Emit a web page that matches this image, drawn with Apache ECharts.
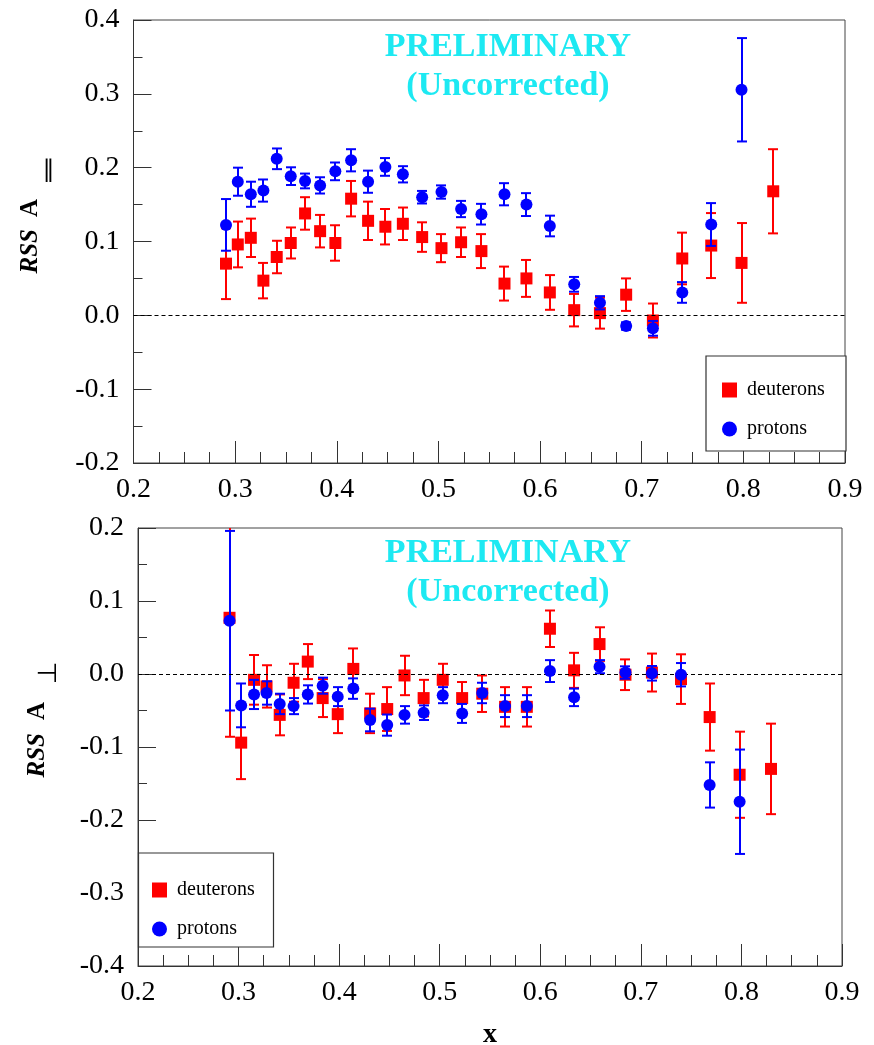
<!DOCTYPE html>
<html>
<head>
<meta charset="utf-8">
<script src="https://cdn.jsdelivr.net/npm/echarts@6/dist/echarts.min.js"></script>
<style>
html,body{margin:0;padding:0;background:#fff;}
#chart{width:874px;height:1045px;}
</style>
</head>
<body>
<div id="chart"></div>
<script>
// ---- data ----
const xVals = [0.291, 0.3026, 0.3154, 0.3278, 0.3409, 0.3547, 0.3688, 0.3836, 0.3986, 0.4141,
  0.4308, 0.4478, 0.4650, 0.4840, 0.5030, 0.5223, 0.5423, 0.5650, 0.5866, 0.6096,
  0.6336, 0.6589, 0.6847, 0.7110, 0.7399, 0.7684, 0.7982, 0.8294];

// top panel: RSS A_parallel
const dTopY   = [0.070, 0.096, 0.105, 0.047, 0.079, 0.098, 0.138, 0.114, 0.098, 0.158,
  0.128, 0.120, 0.124, 0.106, 0.091, 0.099, 0.087, 0.043, 0.050, 0.031,
  0.007, 0.003, 0.028, -0.007, 0.077, 0.0945, 0.071, 0.168];
const dTopErr = [0.048, 0.031, 0.026, 0.024, 0.022, 0.021, 0.022, 0.022, 0.024, 0.024,
  0.026, 0.024, 0.022, 0.020, 0.019, 0.020, 0.023, 0.023, 0.025, 0.0235,
  0.022, 0.021, 0.022, 0.023, 0.035, 0.044, 0.054, 0.057];
const pTopY   = [0.1225, 0.181, 0.164, 0.169, 0.212, 0.1885, 0.182, 0.176, 0.195, 0.210,
  0.181, 0.201, 0.191, 0.160, 0.167, 0.144, 0.137, 0.164, 0.150, 0.121,
  0.042, 0.017, -0.0145, -0.0176, 0.031, 0.123, 0.3055];
const pTopErr = [0.035, 0.019, 0.017, 0.015, 0.014, 0.012, 0.010, 0.011, 0.012, 0.015,
  0.015, 0.012, 0.011, 0.0085, 0.009, 0.011, 0.014, 0.015, 0.0155, 0.014,
  0.010, 0.009, 0.005, 0.010, 0.014, 0.029, 0.070];

// bottom panel: RSS A_perp
const dBotY   = [0.077, -0.094, -0.008, -0.017, -0.056, -0.012, 0.017, -0.033, -0.055, 0.007,
  -0.054, -0.048, -0.002, -0.033, -0.008, -0.033, -0.027, -0.045, -0.045, 0.062,
  0.005, 0.041, -0.001, 0.002, -0.007, -0.059, -0.138, -0.130];
const dBotErr = [0.163, 0.050, 0.034, 0.029, 0.028, 0.026, 0.024, 0.026, 0.026, 0.028,
  0.027, 0.030, 0.027, 0.025, 0.022, 0.022, 0.025, 0.027, 0.027, 0.025,
  0.024, 0.023, 0.021, 0.026, 0.034, 0.046, 0.059, 0.062];
const pBotY   = [0.073, -0.043, -0.028, -0.026, -0.041, -0.044, -0.028, -0.016, -0.031, -0.020,
  -0.063, -0.070, -0.056, -0.053, -0.029, -0.054, -0.026, -0.044, -0.044, 0.004,
  -0.032, 0.010, 0.002, 0.001, -0.001, -0.152, -0.175];
const pBotErr = [0.123, 0.030, 0.020, 0.016, 0.014, 0.011, 0.0125, 0.011, 0.013, 0.014,
  0.0155, 0.0145, 0.012, 0.010, 0.011, 0.013, 0.014, 0.015, 0.015, 0.015,
  0.012, 0.009, 0.0085, 0.010, 0.016, 0.031, 0.0715];

const seriesNames = ['deuterons', 'protons'];
const xTickValues = [0.2, 0.9, 0.1];        // min, max, interval
const yTopTicks   = [-0.2, 0.4, 0.1];
const yBotTicks   = [-0.4, 0.2, 0.1];

// ---- helpers ----
const FONT = "'Liberation Serif', 'DejaVu Serif', serif";
const RED = '#ff0000', BLUE = '#0000ff';
const pts = ys => ys.map((y, i) => [xVals[i], y]);
const bars = (ys, es) => ys.map((y, i) => [xVals[i], y - es[i], y + es[i]]);
const fmt = v => (Math.abs(v) < 1e-9 ? 0 : v).toFixed(1);

function errRender(params, api) {
  const x = api.value(0), lo = api.value(1), hi = api.value(2);
  const a = api.coord([x, lo]), b = api.coord([x, hi]);
  const cx = Math.round(a[0]);
  const c = api.visual('color');
  const hw = 5;
  const st = { stroke: c, lineWidth: 2 };
  return {
    type: 'group',
    children: [
      { type: 'line', shape: { x1: cx, y1: a[1], x2: cx, y2: b[1] }, style: st },
      { type: 'line', shape: { x1: cx - hw, y1: a[1], x2: cx + hw, y2: a[1] }, style: st },
      { type: 'line', shape: { x1: cx - hw, y1: b[1], x2: cx + hw, y2: b[1] }, style: st }
    ]
  };
}

function xAxisCfg(gi, withName) {
  const o = {
    type: 'value', gridIndex: gi,
    min: xTickValues[0], max: xTickValues[1], interval: xTickValues[2],
    axisLine: { show: true, onZero: false, lineStyle: { color: '#333', width: 1 } },
    axisTick: { show: true, inside: true, length: 22, lineStyle: { color: '#333' } },
    minorTick: { show: true, splitNumber: 4, length: 11, lineStyle: { color: '#333' } },
    splitLine: { show: false },
    axisLabel: { formatter: fmt, fontFamily: FONT, fontSize: 28, color: '#000', margin: 13 }
  };
  if (withName) {
    o.name = 'x';
    o.nameLocation = 'middle';
    o.nameGap = 55;
    o.nameTextStyle = { fontFamily: FONT, fontSize: 28, fontWeight: 'bold', color: '#000' };
  }
  return o;
}
function yAxisCfg(gi, ticks) {
  return {
    type: 'value', gridIndex: gi,
    min: ticks[0], max: ticks[1], interval: ticks[2],
    axisLine: { show: true, onZero: false, lineStyle: { color: '#333', width: 1 } },
    axisTick: { show: true, inside: true, length: 18, lineStyle: { color: '#333' } },
    minorTick: { show: true, splitNumber: 2, length: 9, lineStyle: { color: '#333' } },
    splitLine: { show: false },
    axisLabel: { formatter: fmt, fontFamily: FONT, fontSize: 28, color: '#000', margin: 14 }
  };
}

function panelSeries(gi, dY, dE, pY, pE) {
  const zeroLine = {
    silent: true, symbol: 'none', label: { show: false },
    lineStyle: { color: '#000', type: [4, 3], width: 1 },
    data: [{ yAxis: 0 }]
  };
  return [
    { type: 'custom', name: seriesNames[0], xAxisIndex: gi, yAxisIndex: gi, clip: true,
      itemStyle: { color: RED }, renderItem: errRender, data: bars(dY, dE), z: 2,
      encode: { x: 0, y: [1, 2] }, markLine: zeroLine },
    { type: 'scatter', name: seriesNames[0], xAxisIndex: gi, yAxisIndex: gi,
      symbol: 'rect', symbolSize: 12, itemStyle: { color: RED, opacity: 1 }, data: pts(dY), z: 3 },
    { type: 'custom', name: seriesNames[1], xAxisIndex: gi, yAxisIndex: gi, clip: true,
      itemStyle: { color: BLUE }, renderItem: errRender, data: bars(pY, pE), z: 4,
      encode: { x: 0, y: [1, 2] } },
    { type: 'scatter', name: seriesNames[1], xAxisIndex: gi, yAxisIndex: gi,
      symbol: 'circle', symbolSize: 12, itemStyle: { color: BLUE, opacity: 1 }, data: pts(pY), z: 5 }
  ];
}

function legendCfg(left, top) {
  return {
    orient: 'vertical', left: left, top: top, padding: 0,
    itemWidth: 15, itemHeight: 15, itemGap: 19,
    selectedMode: false,
    textStyle: { fontFamily: FONT, fontSize: 20, color: '#000', padding: [0, 0, 0, 5] },
    data: [{ name: seriesNames[0], icon: 'rect' }, { name: seriesNames[1], icon: 'circle' }]
  };
}

const CYAN = '#1de9f2';
function titleTexts(cx, y1, y2) {
  return [
    { type: 'text', x: cx, y: y1, z: 10,
      style: { text: 'PRELIMINARY', fill: CYAN, font: 'bold 34px ' + FONT, textAlign: 'center', textVerticalAlign: 'middle' } },
    { type: 'text', x: cx, y: y2, z: 10,
      style: { text: '(Uncorrected)', fill: CYAN, font: 'bold 34px ' + FONT, textAlign: 'center', textVerticalAlign: 'middle' } }
  ];
}

const chart = echarts.init(document.getElementById('chart'), null, { renderer: 'canvas' });
chart.setOption({
  animation: false,
  backgroundColor: '#fff',
  grid: [
    { left: 133.5, top: 20, width: 711.5, height: 443, show: true, borderColor: '#444', borderWidth: 1,
      backgroundColor: 'transparent', containLabel: false, outerBoundsMode: 'none' },
    { left: 138, top: 528, width: 704, height: 438, show: true, borderColor: '#444', borderWidth: 1,
      backgroundColor: 'transparent', containLabel: false, outerBoundsMode: 'none' }
  ],
  xAxis: [xAxisCfg(0, false), xAxisCfg(1, true)],
  yAxis: [yAxisCfg(0, yTopTicks), yAxisCfg(1, yBotTicks)],
  legend: [legendCfg(722, 380), legendCfg(152, 880)],
  series: [].concat(
    panelSeries(0, dTopY, dTopErr, pTopY, pTopErr),
    panelSeries(1, dBotY, dBotErr, pBotY, pBotErr)
  ),
  graphic: [].concat(
    titleTexts(508, 47, 86),
    titleTexts(508, 553, 592),
    [
      // legend boxes
      { type: 'rect', z: 3, shape: { x: 706, y: 356, width: 140, height: 95 },
        style: { fill: '#fff', stroke: '#333', lineWidth: 1.2 } },
      { type: 'rect', z: 3, shape: { x: 138.5, y: 853, width: 135, height: 94 },
        style: { fill: '#fff', stroke: '#333', lineWidth: 1.2 } },
      // top y-axis title
      { type: 'group', x: 31, y: 213, rotation: Math.PI / 2, children: [
        { type: 'text', x: -16, y: 0,
          style: { text: 'RSS', font: 'italic bold 25px ' + FONT, fill: '#000', textAlign: 'right', textVerticalAlign: 'middle' } },
        { type: 'text', x: -4, y: 0,
          style: { text: 'A', font: 'bold 25px ' + FONT, fill: '#000', textAlign: 'left', textVerticalAlign: 'middle' } }
      ] },
      { type: 'text', x: 48.5, y: 171,
        style: { text: '\u2225', font: '24px DejaVu Sans', fill: '#000', textAlign: 'center', textVerticalAlign: 'middle' } },
      // bottom y-axis title
      { type: 'group', x: 38, y: 721, rotation: Math.PI / 2, children: [
        { type: 'text', x: -12, y: 0,
          style: { text: 'RSS', font: 'italic bold 25px ' + FONT, fill: '#000', textAlign: 'right', textVerticalAlign: 'middle' } },
        { type: 'text', x: 1, y: 0,
          style: { text: 'A', font: 'bold 25px ' + FONT, fill: '#000', textAlign: 'left', textVerticalAlign: 'middle' } },
        { type: 'text', x: 37, y: 11,
          style: { text: '\u22A5', font: '26px DejaVu Sans', fill: '#000', textAlign: 'left', textVerticalAlign: 'middle' } }
      ] }
    ]
  )
});
</script>
</body>
</html>
